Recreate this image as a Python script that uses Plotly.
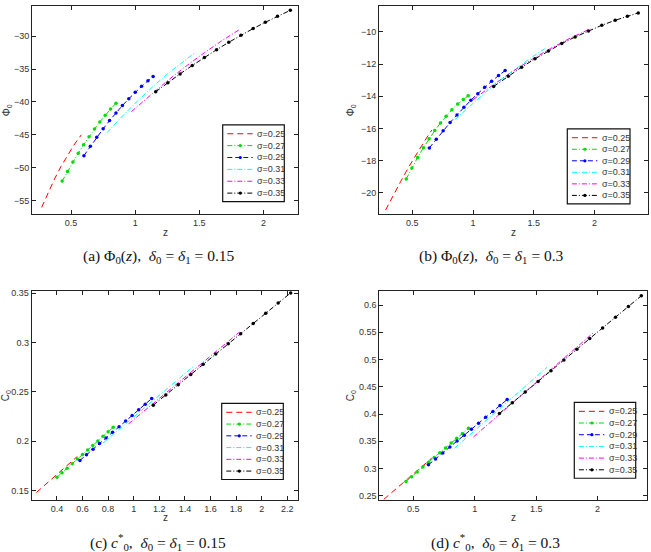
import plotly.graph_objects as go

sigma_labels = ["σ=0.25", "σ=0.27", "σ=0.29", "σ=0.31", "σ=0.33", "σ=0.35"]

# ---- Panel (a): Phi0(z), delta = 0.15
a_z = [
    [0.27, 0.32, 0.37, 0.42, 0.47, 0.52, 0.58],
    [0.43, 0.472, 0.514, 0.556, 0.598, 0.64, 0.682, 0.724, 0.766, 0.808, 0.85],
    [0.60, 0.65, 0.70, 0.75, 0.80, 0.85, 0.90, 0.95, 1.00, 1.05, 1.10, 1.14],
    [0.78, 0.90, 1.02, 1.14, 1.26, 1.38, 1.47],
    [0.97, 1.11, 1.25, 1.40, 1.54, 1.68, 1.82],
    [1.16, 1.255, 1.35, 1.445, 1.54, 1.635, 1.73, 1.825, 1.92, 2.015, 2.11, 2.21],
]
a_phi = [
    [-56.03, -53.80, -51.73, -49.85, -48.13, -46.60, -44.99],
    [-52.03, -50.55, -49.13, -47.78, -46.50, -45.27, -44.12, -43.04, -42.02, -41.08, -40.19],
    [-48.16, -46.73, -45.37, -44.07, -42.83, -41.66, -40.55, -39.51, -38.53, -37.62, -36.77, -36.13],
    [-44.67, -42.16, -39.82, -37.62, -35.60, -33.74, -32.44],
    [-41.47, -39.07, -36.79, -34.50, -32.50, -30.64, -28.90],
    [-38.44, -37.06, -35.73, -34.45, -33.22, -32.05, -30.92, -29.86, -28.84, -27.88, -26.97, -26.06],
]

# ---- Panel (b): Phi0(z), delta = 0.3
b_z = [
    [0.28, 0.345, 0.41, 0.475, 0.54, 0.60, 0.66],
    [0.45, 0.497, 0.544, 0.591, 0.638, 0.685, 0.732, 0.779, 0.826, 0.873, 0.92, 0.96],
    [0.64, 0.697, 0.754, 0.811, 0.868, 0.925, 0.982, 1.039, 1.096, 1.153, 1.21, 1.264],
    [0.85, 0.975, 1.10, 1.21, 1.34, 1.47, 1.59],
    [1.00, 1.16, 1.32, 1.48, 1.64, 1.80, 1.965],
    [1.17, 1.29, 1.40, 1.51, 1.62, 1.73, 1.84, 1.95, 2.06, 2.17, 2.27, 2.36],
]
b_phi = [
    [-21.09, -20.14, -19.23, -18.35, -17.52, -16.80, -16.11],
    [-19.15, -18.46, -17.81, -17.21, -16.65, -16.14, -15.66, -15.24, -14.84, -14.49, -14.20, -13.97],
    [-17.22, -16.67, -16.15, -15.64, -15.16, -14.69, -14.25, -13.84, -13.44, -13.07, -12.71, -12.40],
    [-15.46, -14.59, -13.77, -13.09, -12.34, -11.64, -11.04],
    [-14.22, -13.32, -12.48, -11.72, -11.02, -10.38, -9.80],
    [-13.39, -12.75, -12.19, -11.67, -11.18, -10.72, -10.31, -9.93, -9.58, -9.27, -9.02, -8.81],
]

# ---- Panel (c): c0*(z), delta = 0.15
c_z = [
    [0.24, 0.30, 0.36, 0.42, 0.48, 0.56],
    [0.40, 0.44, 0.48, 0.52, 0.56, 0.60, 0.64, 0.68, 0.72, 0.76, 0.80, 0.84],
    [0.58, 0.631, 0.682, 0.733, 0.784, 0.835, 0.886, 0.937, 0.988, 1.039, 1.09, 1.141],
    [0.76, 0.88, 1.00, 1.12, 1.24, 1.36, 1.466],
    [0.96, 1.105, 1.25, 1.395, 1.54, 1.685, 1.825],
    [1.153, 1.251, 1.348, 1.446, 1.543, 1.641, 1.739, 1.836, 1.934, 2.032, 2.129, 2.227],
]
c_c0 = [
    [0.1482, 0.1550, 0.1619, 0.1687, 0.1756, 0.1847],
    [0.1636, 0.1682, 0.1728, 0.1774, 0.1820, 0.1866, 0.1912, 0.1958, 0.2004, 0.2050, 0.2096, 0.2142],
    [0.1806, 0.1863, 0.1920, 0.1977, 0.2034, 0.2091, 0.2148, 0.2205, 0.2262, 0.2319, 0.2376, 0.2433],
    [0.1982, 0.2114, 0.2246, 0.2378, 0.2509, 0.2641, 0.2758],
    [0.2177, 0.2333, 0.2488, 0.2644, 0.2799, 0.2954, 0.3104],
    [0.2366, 0.2470, 0.2573, 0.2676, 0.2780, 0.2883, 0.2987, 0.3090, 0.3193, 0.3297, 0.3400, 0.3503],
]

# ---- Panel (d): c0*(z), delta = 0.3
d_z = [
    [0.26, 0.33, 0.40, 0.47, 0.54, 0.65],
    [0.44, 0.486, 0.532, 0.578, 0.624, 0.67, 0.716, 0.762, 0.808, 0.854, 0.90, 0.949],
    [0.623, 0.681, 0.740, 0.798, 0.856, 0.915, 0.973, 1.031, 1.089, 1.148, 1.206, 1.264],
    [0.835, 0.96, 1.085, 1.21, 1.34, 1.465, 1.59],
    [0.99, 1.155, 1.32, 1.48, 1.645, 1.81, 1.97],
    [1.201, 1.306, 1.411, 1.516, 1.621, 1.726, 1.831, 1.936, 2.041, 2.146, 2.251, 2.356],
]
d_c0 = [
    [0.2434, 0.2570, 0.2706, 0.2841, 0.2977, 0.3190],
    [0.2761, 0.2849, 0.2937, 0.3026, 0.3114, 0.3202, 0.3290, 0.3378, 0.3467, 0.3555, 0.3643, 0.3737],
    [0.3067, 0.3176, 0.3285, 0.3394, 0.3503, 0.3612, 0.3721, 0.3830, 0.3939, 0.4048, 0.4157, 0.4266],
    [0.3372, 0.3618, 0.3865, 0.4111, 0.4367, 0.4614, 0.4860],
    [0.3580, 0.3903, 0.4226, 0.4540, 0.4863, 0.5186, 0.5500],
    [0.4010, 0.4206, 0.4403, 0.4599, 0.4795, 0.4992, 0.5188, 0.5385, 0.5581, 0.5777, 0.5974, 0.6170],
]

colors = ["#ff0000", "#00dd00", "#0000ff", "#00ffff", "#ff00ff", "#000000"]
dashes = ["6px,4px", "5px,2px,1px,2px", "5px,3px", "5px,2px,1px,2px", "5px,2px,1px,2px", "5px,2px,1px,2px"]
has_marker = [False, True, True, False, False, True]

W, H = 651, 552
def dom(px0, px1):
    return [px0 / W, px1 / W]
def vdom(top, bottom):
    return [1 - bottom / H, 1 - top / H]
def px(xp):
    return xp / W
def py(yp):
    return 1 - yp / H

fig = go.Figure()

panels = [
    (a_z, a_phi, "x", "y"),
    (b_z, b_phi, "x2", "y2"),
    (c_z, c_c0, "x3", "y3"),
    (d_z, d_c0, "x4", "y4"),
]
for zs, vs, xa, ya in panels:
    for i in range(6):
        fig.add_trace(go.Scatter(
            x=zs[i], y=vs[i], xaxis=xa, yaxis=ya, showlegend=False,
            name=sigma_labels[i],
            mode="lines+markers" if has_marker[i] else "lines",
            line=dict(color=colors[i], width=1, dash=dashes[i]),
            marker=dict(color=colors[i], size=3.5),
        ))

tickfont = dict(family="Liberation Sans, Arial", size=9, color="#333")
axis_common = dict(showgrid=False, zeroline=False, showline=True, linecolor="#222", linewidth=1,
                   mirror="ticks", ticks="inside", ticklen=4, tickcolor="#222", tickfont=tickfont)

fig.update_layout(
    width=W, height=H, margin=dict(l=0, r=0, t=0, b=0),
    paper_bgcolor="white", plot_bgcolor="white", showlegend=False,
    xaxis=dict(domain=dom(32, 298), range=[0.195, 2.27], tickvals=[0.5, 1, 1.5, 2],
               ticktext=["0.5", "1", "1.5", "2"], anchor="y", **axis_common),
    yaxis=dict(domain=vdom(3, 213), range=[-57.1, -25.4], tickvals=[-55, -50, -45, -40, -35, -30],
               ticktext=["−55", "−50", "−45", "−40", "−35", "−30"], anchor="x", **axis_common),
    xaxis2=dict(domain=dom(379, 648), range=[0.226, 2.44], tickvals=[0.5, 1, 1.5, 2],
                ticktext=["0.5", "1", "1.5", "2"], anchor="y2", **axis_common),
    yaxis2=dict(domain=vdom(3, 213), range=[-21.36, -8.38], tickvals=[-20, -18, -16, -14, -12, -10],
                ticktext=["−20", "−18", "−16", "−14", "−12", "−10"], anchor="x2", **axis_common),
    xaxis3=dict(domain=dom(31.7, 298), range=[0.203, 2.284],
                tickvals=[0.4, 0.6, 0.8, 1, 1.2, 1.4, 1.6, 1.8, 2, 2.2],
                ticktext=["0.4", "0.6", "0.8", "1", "1.2", "1.4", "1.6", "1.8", "2", "2.2"],
                anchor="y3", **axis_common),
    yaxis3=dict(domain=vdom(290, 500.7), range=[0.1405, 0.3523], tickvals=[0.15, 0.2, 0.25, 0.3, 0.35],
                ticktext=["0.15", "0.2", "0.25", "0.3", "0.35"], anchor="x3", **axis_common),
    xaxis4=dict(domain=dom(379.3, 646.7), range=[0.223, 2.40], tickvals=[0.5, 1, 1.5, 2],
                ticktext=["0.5", "1", "1.5", "2"], anchor="y4", **axis_common),
    yaxis4=dict(domain=vdom(290, 500.7), range=[0.242, 0.626],
                tickvals=[0.25, 0.3, 0.35, 0.4, 0.45, 0.5, 0.55, 0.6],
                ticktext=["0.25", "0.3", "0.35", "0.4", "0.45", "0.5", "0.55", "0.6"],
                anchor="x4", **axis_common),
)

# ---- legends (MATLAB-style compact boxes), drawn in paper coordinates
legend_boxes = [(222.7, 122.7, 61.6, 77.3), (567.3, 126.7, 62.7, 75.6),
                (221.7, 403.3, 61.6, 76.7), (574.3, 402.3, 61.4, 76.4)]
shapes = []
annotations = []
leg_font = dict(family="Liberation Sans, Arial", size=9, color="#333")
for (bx, by, bw, bh) in legend_boxes:
    shapes.append(dict(type="rect", xref="paper", yref="paper",
                       x0=px(bx), x1=px(bx + bw), y0=py(by + bh), y1=py(by),
                       line=dict(color="#111", width=1.2), fillcolor="white", layer="above"))
    step = (bh - 17.5) / 5
    for i in range(6):
        yy = by + 9 + i * step
        shapes.append(dict(type="line", xref="paper", yref="paper",
                           x0=px(bx + 4.6), x1=px(bx + 30.0), y0=py(yy), y1=py(yy),
                           line=dict(color=colors[i], width=1, dash=dashes[i]), layer="above"))
        if has_marker[i]:
            cx = bx + 17.6
            shapes.append(dict(type="circle", xref="paper", yref="paper",
                               x0=px(cx - 1.6), x1=px(cx + 1.6), y0=py(yy + 1.6), y1=py(yy - 1.6),
                               line=dict(color=colors[i], width=0), fillcolor=colors[i], layer="above"))
        annotations.append(dict(text=sigma_labels[i], x=px(bx + 32.6), y=py(yy), xanchor="left",
                                yanchor="middle", font=leg_font))

ann_font = dict(family="Liberation Sans, Arial", size=10, color="#333")
cap_font = dict(family="Liberation Serif, DejaVu Serif", size=15.5, color="#111")
labels = [
    dict(text="z", x=px(165), y=py(231), font=ann_font),
    dict(text="z", x=px(513), y=py(231), font=ann_font),
    dict(text="z", x=px(165), y=py(518), font=ann_font),
    dict(text="z", x=px(513), y=py(518), font=ann_font),
    dict(text="Φ<sub>0</sub>", x=px(7), y=py(108), textangle=-90, font=ann_font),
    dict(text="Φ<sub>0</sub>", x=px(351), y=py(108), textangle=-90, font=ann_font),
    dict(text="C<sub>0</sub>", x=px(6), y=py(396), textangle=-90, font=ann_font),
    dict(text="C<sub>0</sub>", x=px(351), y=py(396), textangle=-90, font=ann_font),
    dict(text="(a) Φ<sub>0</sub>(<i>z</i>),  <i>δ</i><sub>0</sub> = <i>δ</i><sub>1</sub> = 0.15",
         x=px(159), y=py(255), font=cap_font),
    dict(text="(b) Φ<sub>0</sub>(<i>z</i>),  <i>δ</i><sub>0</sub> = <i>δ</i><sub>1</sub> = 0.3",
         x=px(492), y=py(255), font=cap_font),
    dict(text="(c) <i>c</i><sup>*</sup><sub>0</sub>,  <i>δ</i><sub>0</sub> = <i>δ</i><sub>1</sub> = 0.15",
         x=px(158), y=py(543), font=cap_font),
    dict(text="(d) <i>c</i><sup>*</sup><sub>0</sub>,  <i>δ</i><sub>0</sub> = <i>δ</i><sub>1</sub> = 0.3",
         x=px(495), y=py(543), font=cap_font),
]
for a in labels:
    a.update(xanchor="center", yanchor="middle")
annotations += labels
for a in annotations:
    a.update(xref="paper", yref="paper", showarrow=False)
fig.update_layout(shapes=shapes, annotations=annotations)

fig.write_html("out.html")
